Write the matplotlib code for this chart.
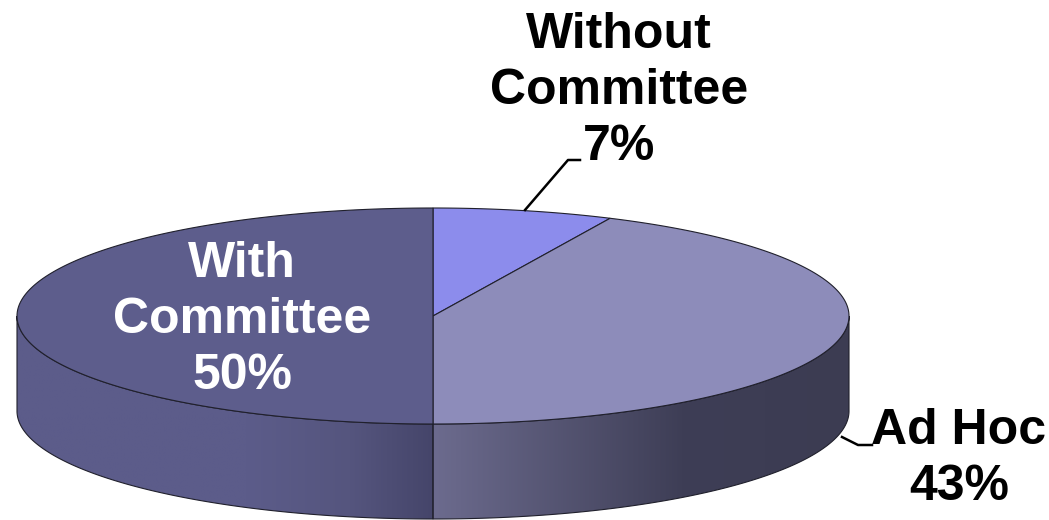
import matplotlib
matplotlib.use("Agg")
import matplotlib.pyplot as plt
import numpy as np
from matplotlib.colors import LinearSegmentedColormap
from matplotlib.patches import Polygon

labels = ["Without\nCommittee\n7%", "Ad Hoc\n43%", "With\nCommittee\n50%"]
values = [7, 43, 50]
top_colors = ["#8c8cec", "#8d8cba", "#5d5d8c"]
text_colors = ["black", "black", "white"]
label_pos = [(619, 91), (959, 459), (242, 320)]

# pie geometry in pixels
cx, cy = 433, 316
rx, ry = 416, 108
depth = 95
edge = "#20202c"

plt.rcParams["font.family"] = ["Liberation Sans", "DejaVu Sans"]
fig = plt.figure(figsize=(10.49, 5.2), dpi=100)
ax = fig.add_axes([0, 0, 1, 1])
ax.set_xlim(0, 1049)
ax.set_ylim(520, 0)
ax.axis("off")


def arc(start, end, n=200):
    # angles in degrees, clockwise from the top of the ellipse
    t = np.radians(np.linspace(start, end, n))
    return np.column_stack([cx + rx * np.sin(t), cy - ry * np.cos(t)])


def side(start, end, stops):
    front = arc(start, end)
    back = front[::-1] + [0, depth]
    outline = np.vstack([front, back])
    cmap = LinearSegmentedColormap.from_list("side", stops)
    x0, x1 = outline[:, 0].min(), outline[:, 0].max()
    grad = np.linspace(0, 1, 256).reshape(1, -1)
    im = ax.imshow(grad, cmap=cmap, aspect="auto", zorder=1,
                   extent=[x0, x1, cy + ry + depth + 1, cy - 1])
    poly = Polygon(outline, closed=True, fc="none", ec=edge, lw=0.8, zorder=2)
    ax.add_patch(poly)
    im.set_clip_path(poly)


side(90, 180, [(0, "#6c6b8e"), (0.6, "#3e3e56"), (1, "#3c3c52")])
side(180, 270, [(0, "#5c5c8a"), (0.55, "#5c5c8a"), (0.8, "#55557e"), (1, "#45456a")])

angles = np.cumsum([0] + values) * 3.6
for i in range(len(values)):
    pts = np.vstack([[cx, cy], arc(angles[i], angles[i + 1])])
    ax.add_patch(Polygon(pts, closed=True, fc=top_colors[i], ec=edge, lw=0.8, zorder=3))

ax.plot([525, 568, 580], [210, 160, 160], color="black", lw=1.8, zorder=4)
ax.plot([842, 858, 872], [437, 445, 445], color="black", lw=1.8, zorder=4)

for txt, c, (x, y) in zip(labels, text_colors, label_pos):
    ax.text(x, y, txt, color=c, fontsize=36, fontweight="bold", ha="center",
            va="center", linespacing=1.28, zorder=5)

fig.savefig("out.png", dpi=100, facecolor="white")
